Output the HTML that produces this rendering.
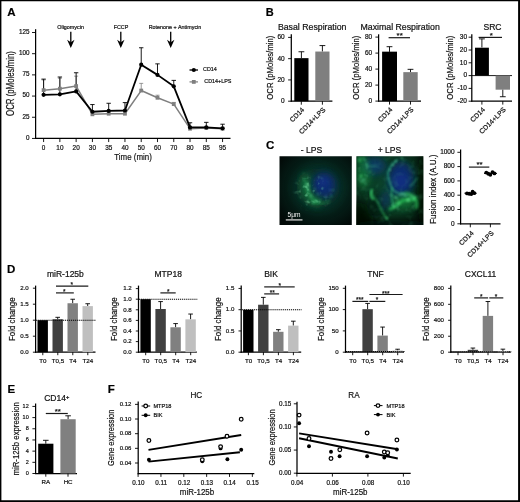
<!DOCTYPE html>
<html lang="en"><head><meta charset="utf-8"><title>Figure</title>
<style>
html,body{margin:0;padding:0;background:#fff;}
body{width:520px;height:502px;overflow:hidden;position:relative;}
svg{display:block;position:absolute;left:0;top:0;}
svg text{font-family:"Liberation Sans", Arial, Helvetica, sans-serif;stroke:#111;stroke-width:0.2px;}
</style></head><body>
<svg width="520" height="502" viewBox="0 0 520 502">
<rect x="0" y="0" width="520" height="502" fill="#fff"/>
<text transform="translate(7.20,15.60)" font-size="11.5" text-anchor="start" font-weight="bold" fill="#000" >A</text>
<line x1="35.60" y1="29.20" x2="35.60" y2="139.00" stroke="#000" stroke-width="1.25" stroke-linecap="butt"/>
<line x1="35.05" y1="138.45" x2="230.50" y2="138.45" stroke="#000" stroke-width="1.25" stroke-linecap="butt"/>
<line x1="32.00" y1="138.45" x2="35.60" y2="138.45" stroke="#000" stroke-width="0.9" stroke-linecap="butt"/>
<text transform="translate(29.60,139.85)" font-size="6.3" text-anchor="end" font-weight="normal" fill="#111" >0</text>
<line x1="32.00" y1="117.26" x2="35.60" y2="117.26" stroke="#000" stroke-width="0.9" stroke-linecap="butt"/>
<text transform="translate(29.60,118.66)" font-size="6.3" text-anchor="end" font-weight="normal" fill="#111" >25</text>
<line x1="32.00" y1="96.07" x2="35.60" y2="96.07" stroke="#000" stroke-width="0.9" stroke-linecap="butt"/>
<text transform="translate(29.60,97.47)" font-size="6.3" text-anchor="end" font-weight="normal" fill="#111" >50</text>
<line x1="32.00" y1="74.88" x2="35.60" y2="74.88" stroke="#000" stroke-width="0.9" stroke-linecap="butt"/>
<text transform="translate(29.60,76.28)" font-size="6.3" text-anchor="end" font-weight="normal" fill="#111" >75</text>
<line x1="32.00" y1="53.69" x2="35.60" y2="53.69" stroke="#000" stroke-width="0.9" stroke-linecap="butt"/>
<text transform="translate(29.60,55.09)" font-size="6.3" text-anchor="end" font-weight="normal" fill="#111" >100</text>
<line x1="32.00" y1="32.50" x2="35.60" y2="32.50" stroke="#000" stroke-width="0.9" stroke-linecap="butt"/>
<text transform="translate(29.60,33.90)" font-size="6.3" text-anchor="end" font-weight="normal" fill="#111" >125</text>
<line x1="43.60" y1="138.45" x2="43.60" y2="142.05" stroke="#000" stroke-width="0.9" stroke-linecap="butt"/>
<text transform="translate(43.60,149.75)" font-size="6.4" text-anchor="middle" font-weight="normal" fill="#111" >0</text>
<line x1="59.87" y1="138.45" x2="59.87" y2="142.05" stroke="#000" stroke-width="0.9" stroke-linecap="butt"/>
<text transform="translate(59.87,149.75)" font-size="6.4" text-anchor="middle" font-weight="normal" fill="#111" >10</text>
<line x1="76.14" y1="138.45" x2="76.14" y2="142.05" stroke="#000" stroke-width="0.9" stroke-linecap="butt"/>
<text transform="translate(76.14,149.75)" font-size="6.4" text-anchor="middle" font-weight="normal" fill="#111" >20</text>
<line x1="92.41" y1="138.45" x2="92.41" y2="142.05" stroke="#000" stroke-width="0.9" stroke-linecap="butt"/>
<text transform="translate(92.41,149.75)" font-size="6.4" text-anchor="middle" font-weight="normal" fill="#111" >30</text>
<line x1="108.68" y1="138.45" x2="108.68" y2="142.05" stroke="#000" stroke-width="0.9" stroke-linecap="butt"/>
<text transform="translate(108.68,149.75)" font-size="6.4" text-anchor="middle" font-weight="normal" fill="#111" >35</text>
<line x1="124.95" y1="138.45" x2="124.95" y2="142.05" stroke="#000" stroke-width="0.9" stroke-linecap="butt"/>
<text transform="translate(124.95,149.75)" font-size="6.4" text-anchor="middle" font-weight="normal" fill="#111" >40</text>
<line x1="141.22" y1="138.45" x2="141.22" y2="142.05" stroke="#000" stroke-width="0.9" stroke-linecap="butt"/>
<text transform="translate(141.22,149.75)" font-size="6.4" text-anchor="middle" font-weight="normal" fill="#111" >50</text>
<line x1="157.49" y1="138.45" x2="157.49" y2="142.05" stroke="#000" stroke-width="0.9" stroke-linecap="butt"/>
<text transform="translate(157.49,149.75)" font-size="6.4" text-anchor="middle" font-weight="normal" fill="#111" >60</text>
<line x1="173.76" y1="138.45" x2="173.76" y2="142.05" stroke="#000" stroke-width="0.9" stroke-linecap="butt"/>
<text transform="translate(173.76,149.75)" font-size="6.4" text-anchor="middle" font-weight="normal" fill="#111" >70</text>
<line x1="190.03" y1="138.45" x2="190.03" y2="142.05" stroke="#000" stroke-width="0.9" stroke-linecap="butt"/>
<text transform="translate(190.03,149.75)" font-size="6.4" text-anchor="middle" font-weight="normal" fill="#111" >80</text>
<line x1="206.30" y1="138.45" x2="206.30" y2="142.05" stroke="#000" stroke-width="0.9" stroke-linecap="butt"/>
<text transform="translate(206.30,149.75)" font-size="6.4" text-anchor="middle" font-weight="normal" fill="#111" >85</text>
<line x1="222.57" y1="138.45" x2="222.57" y2="142.05" stroke="#000" stroke-width="0.9" stroke-linecap="butt"/>
<text transform="translate(222.57,149.75)" font-size="6.4" text-anchor="middle" font-weight="normal" fill="#111" >95</text>
<text transform="translate(133.10,159.90) scale(0.81,1)" font-size="9.8" text-anchor="middle" font-weight="normal" fill="#111" >Time (min)</text>
<text transform="translate(14.20,83.50) rotate(-90) scale(0.785,1)" font-size="10" text-anchor="middle" font-weight="normal" fill="#111" >OCR (pMoles/min)</text>
<text transform="translate(70.60,29.20)" font-size="5.4" text-anchor="middle" font-weight="normal" fill="#111" >Oligomycin</text>
<text transform="translate(121.00,29.20)" font-size="5.4" text-anchor="middle" font-weight="normal" fill="#111" >FCCP</text>
<text transform="translate(175.00,29.20)" font-size="5.4" text-anchor="middle" font-weight="normal" fill="#111" >Rotenone + Antimycin</text>
<line x1="70.80" y1="31.80" x2="70.80" y2="42.50" stroke="#000" stroke-width="1.3" stroke-linecap="butt"/>
<path d="M67.10,39.8 L70.80,42.3 L74.50,39.8 L70.80,48.0 Z" fill="#000"/>
<line x1="120.80" y1="31.80" x2="120.80" y2="42.50" stroke="#000" stroke-width="1.3" stroke-linecap="butt"/>
<path d="M117.10,39.8 L120.80,42.3 L124.50,39.8 L120.80,48.0 Z" fill="#000"/>
<line x1="170.70" y1="31.80" x2="170.70" y2="42.50" stroke="#000" stroke-width="1.3" stroke-linecap="butt"/>
<path d="M167.00,39.8 L170.70,42.3 L174.40,39.8 L170.70,48.0 Z" fill="#000"/>
<line x1="43.60" y1="90.14" x2="43.60" y2="79.97" stroke="#7f7f7f" stroke-width="0.8" stroke-linecap="butt"/>
<line x1="41.60" y1="79.97" x2="45.60" y2="79.97" stroke="#7f7f7f" stroke-width="0.8" stroke-linecap="butt"/>
<line x1="59.87" y1="88.70" x2="59.87" y2="78.27" stroke="#7f7f7f" stroke-width="0.8" stroke-linecap="butt"/>
<line x1="57.87" y1="78.27" x2="61.87" y2="78.27" stroke="#7f7f7f" stroke-width="0.8" stroke-linecap="butt"/>
<line x1="76.14" y1="86.07" x2="76.14" y2="76.15" stroke="#7f7f7f" stroke-width="0.8" stroke-linecap="butt"/>
<line x1="74.14" y1="76.15" x2="78.14" y2="76.15" stroke="#7f7f7f" stroke-width="0.8" stroke-linecap="butt"/>
<line x1="141.22" y1="90.56" x2="141.22" y2="83.36" stroke="#7f7f7f" stroke-width="0.8" stroke-linecap="butt"/>
<line x1="139.22" y1="83.36" x2="143.22" y2="83.36" stroke="#7f7f7f" stroke-width="0.8" stroke-linecap="butt"/>
<line x1="157.49" y1="97.77" x2="157.49" y2="95.22" stroke="#7f7f7f" stroke-width="0.8" stroke-linecap="butt"/>
<line x1="155.49" y1="95.22" x2="159.49" y2="95.22" stroke="#7f7f7f" stroke-width="0.8" stroke-linecap="butt"/>
<line x1="173.76" y1="104.12" x2="173.76" y2="102.43" stroke="#7f7f7f" stroke-width="0.8" stroke-linecap="butt"/>
<line x1="171.76" y1="102.43" x2="175.76" y2="102.43" stroke="#7f7f7f" stroke-width="0.8" stroke-linecap="butt"/>
<line x1="43.60" y1="94.80" x2="43.60" y2="79.12" stroke="#000" stroke-width="0.9" stroke-linecap="butt"/>
<line x1="41.40" y1="79.12" x2="45.80" y2="79.12" stroke="#000" stroke-width="0.9" stroke-linecap="butt"/>
<line x1="59.87" y1="94.37" x2="59.87" y2="77.00" stroke="#000" stroke-width="0.9" stroke-linecap="butt"/>
<line x1="57.67" y1="77.00" x2="62.07" y2="77.00" stroke="#000" stroke-width="0.9" stroke-linecap="butt"/>
<line x1="76.14" y1="91.41" x2="76.14" y2="72.76" stroke="#000" stroke-width="0.9" stroke-linecap="butt"/>
<line x1="73.94" y1="72.76" x2="78.34" y2="72.76" stroke="#000" stroke-width="0.9" stroke-linecap="butt"/>
<line x1="92.41" y1="111.75" x2="92.41" y2="104.55" stroke="#000" stroke-width="0.9" stroke-linecap="butt"/>
<line x1="90.21" y1="104.55" x2="94.61" y2="104.55" stroke="#000" stroke-width="0.9" stroke-linecap="butt"/>
<line x1="108.68" y1="110.90" x2="108.68" y2="103.27" stroke="#000" stroke-width="0.9" stroke-linecap="butt"/>
<line x1="106.48" y1="103.27" x2="110.88" y2="103.27" stroke="#000" stroke-width="0.9" stroke-linecap="butt"/>
<line x1="124.95" y1="110.48" x2="124.95" y2="102.60" stroke="#000" stroke-width="0.9" stroke-linecap="butt"/>
<line x1="122.75" y1="102.60" x2="127.15" y2="102.60" stroke="#000" stroke-width="0.9" stroke-linecap="butt"/>
<line x1="141.22" y1="64.71" x2="141.22" y2="47.76" stroke="#000" stroke-width="0.9" stroke-linecap="butt"/>
<line x1="139.02" y1="47.76" x2="143.42" y2="47.76" stroke="#000" stroke-width="0.9" stroke-linecap="butt"/>
<line x1="157.49" y1="74.88" x2="157.49" y2="63.86" stroke="#000" stroke-width="0.9" stroke-linecap="butt"/>
<line x1="155.29" y1="63.86" x2="159.69" y2="63.86" stroke="#000" stroke-width="0.9" stroke-linecap="butt"/>
<line x1="173.76" y1="86.32" x2="173.76" y2="80.39" stroke="#000" stroke-width="0.9" stroke-linecap="butt"/>
<line x1="171.56" y1="80.39" x2="175.96" y2="80.39" stroke="#000" stroke-width="0.9" stroke-linecap="butt"/>
<line x1="190.03" y1="127.43" x2="190.03" y2="122.77" stroke="#000" stroke-width="0.9" stroke-linecap="butt"/>
<line x1="187.83" y1="122.77" x2="192.23" y2="122.77" stroke="#000" stroke-width="0.9" stroke-linecap="butt"/>
<line x1="206.30" y1="127.43" x2="206.30" y2="122.35" stroke="#000" stroke-width="0.9" stroke-linecap="butt"/>
<line x1="204.10" y1="122.35" x2="208.50" y2="122.35" stroke="#000" stroke-width="0.9" stroke-linecap="butt"/>
<line x1="222.57" y1="128.28" x2="222.57" y2="124.21" stroke="#000" stroke-width="0.9" stroke-linecap="butt"/>
<line x1="220.37" y1="124.21" x2="224.77" y2="124.21" stroke="#000" stroke-width="0.9" stroke-linecap="butt"/>
<polyline points="43.60,90.14 59.87,88.70 76.14,86.07 92.41,114.29 108.68,113.70 124.95,113.70 141.22,90.56 157.49,97.77 173.76,104.12 190.03,128.70 206.30,128.02 222.57,128.70" fill="none" stroke="#7f7f7f" stroke-width="1.5" stroke-linejoin="round"/>
<rect x="41.70" y="88.24" width="3.80" height="3.80" fill="#7f7f7f" />
<rect x="57.97" y="86.80" width="3.80" height="3.80" fill="#7f7f7f" />
<rect x="74.24" y="84.17" width="3.80" height="3.80" fill="#7f7f7f" />
<rect x="90.51" y="112.39" width="3.80" height="3.80" fill="#7f7f7f" />
<rect x="106.78" y="111.80" width="3.80" height="3.80" fill="#7f7f7f" />
<rect x="123.05" y="111.80" width="3.80" height="3.80" fill="#7f7f7f" />
<rect x="139.32" y="88.66" width="3.80" height="3.80" fill="#7f7f7f" />
<rect x="155.59" y="95.87" width="3.80" height="3.80" fill="#7f7f7f" />
<rect x="171.86" y="102.22" width="3.80" height="3.80" fill="#7f7f7f" />
<rect x="188.13" y="126.80" width="3.80" height="3.80" fill="#7f7f7f" />
<rect x="204.40" y="126.12" width="3.80" height="3.80" fill="#7f7f7f" />
<rect x="220.67" y="126.80" width="3.80" height="3.80" fill="#7f7f7f" />
<polyline points="43.60,94.80 59.87,94.37 76.14,91.41 92.41,111.75 108.68,110.90 124.95,110.48 141.22,64.71 157.49,74.88 173.76,86.32 190.03,127.43 206.30,127.43 222.57,128.28" fill="none" stroke="#000" stroke-width="1.8" stroke-linejoin="round"/>
<circle cx="43.60" cy="94.80" r="2.1" fill="#000"/>
<circle cx="59.87" cy="94.37" r="2.1" fill="#000"/>
<circle cx="76.14" cy="91.41" r="2.1" fill="#000"/>
<circle cx="92.41" cy="111.75" r="2.1" fill="#000"/>
<circle cx="108.68" cy="110.90" r="2.1" fill="#000"/>
<circle cx="124.95" cy="110.48" r="2.1" fill="#000"/>
<circle cx="141.22" cy="64.71" r="2.1" fill="#000"/>
<circle cx="157.49" cy="74.88" r="2.1" fill="#000"/>
<circle cx="173.76" cy="86.32" r="2.1" fill="#000"/>
<circle cx="190.03" cy="127.43" r="2.1" fill="#000"/>
<circle cx="206.30" cy="127.43" r="2.1" fill="#000"/>
<circle cx="222.57" cy="128.28" r="2.1" fill="#000"/>
<line x1="189.50" y1="70.00" x2="198.00" y2="70.00" stroke="#000" stroke-width="1.3" stroke-linecap="butt"/>
<circle cx="193.80" cy="70.00" r="2.1" fill="#000"/>
<text transform="translate(203.00,71.40)" font-size="5.4" text-anchor="start" font-weight="normal" fill="#111" >CD14</text>
<line x1="189.50" y1="81.90" x2="198.00" y2="81.90" stroke="#7f7f7f" stroke-width="1.2" stroke-linecap="butt"/>
<rect x="191.90" y="80.00" width="3.80" height="3.80" fill="#7f7f7f" />
<text transform="translate(204.30,83.40)" font-size="5.4" text-anchor="start" font-weight="normal" fill="#111" >CD14+LPS</text>
<text transform="translate(265.80,15.80)" font-size="11" text-anchor="start" font-weight="bold" fill="#000" >B</text>
<text transform="translate(277.90,29.50)" font-size="8.75" text-anchor="start" font-weight="normal" fill="#111" >Basal Respiration</text>
<line x1="291.30" y1="34.30" x2="291.30" y2="101.75" stroke="#000" stroke-width="1.25" stroke-linecap="butt"/>
<line x1="288.10" y1="101.20" x2="291.30" y2="101.20" stroke="#000" stroke-width="0.9" stroke-linecap="butt"/>
<text transform="translate(284.70,103.04)" font-size="6.5" text-anchor="end" font-weight="normal" fill="#111" >0</text>
<line x1="288.10" y1="79.93" x2="291.30" y2="79.93" stroke="#000" stroke-width="0.9" stroke-linecap="butt"/>
<text transform="translate(284.70,81.77)" font-size="6.5" text-anchor="end" font-weight="normal" fill="#111" >20</text>
<line x1="288.10" y1="58.67" x2="291.30" y2="58.67" stroke="#000" stroke-width="0.9" stroke-linecap="butt"/>
<text transform="translate(284.70,60.51)" font-size="6.5" text-anchor="end" font-weight="normal" fill="#111" >40</text>
<line x1="288.10" y1="37.40" x2="291.30" y2="37.40" stroke="#000" stroke-width="0.9" stroke-linecap="butt"/>
<text transform="translate(284.70,39.24)" font-size="6.5" text-anchor="end" font-weight="normal" fill="#111" >60</text>
<line x1="290.75" y1="101.20" x2="332.40" y2="101.20" stroke="#000" stroke-width="1.25" stroke-linecap="butt"/>
<text transform="translate(272.80,67.70) rotate(-90) scale(0.85,1)" font-size="9.1" text-anchor="middle" font-weight="normal" fill="#111" >OCR (pMoles/min)</text>
<line x1="301.40" y1="58.14" x2="301.40" y2="51.76" stroke="#000" stroke-width="0.9" stroke-linecap="butt"/>
<line x1="298.50" y1="51.76" x2="304.30" y2="51.76" stroke="#000" stroke-width="0.9" stroke-linecap="butt"/>
<rect x="294.30" y="58.14" width="14.20" height="43.06" fill="#000" />
<line x1="322.40" y1="51.54" x2="322.40" y2="45.59" stroke="#000" stroke-width="0.9" stroke-linecap="butt"/>
<line x1="319.50" y1="45.59" x2="325.30" y2="45.59" stroke="#000" stroke-width="0.9" stroke-linecap="butt"/>
<rect x="315.30" y="51.54" width="14.20" height="49.66" fill="#7f7f7f" />
<line x1="301.30" y1="101.20" x2="301.30" y2="104.70" stroke="#000" stroke-width="0.9" stroke-linecap="butt"/>
<text transform="translate(304.80,110.20) rotate(-45)" font-size="6.8" text-anchor="end" font-weight="normal" fill="#111" >CD14</text>
<line x1="322.40" y1="101.20" x2="322.40" y2="104.70" stroke="#000" stroke-width="0.9" stroke-linecap="butt"/>
<text transform="translate(325.90,110.20) rotate(-45)" font-size="6.8" text-anchor="end" font-weight="normal" fill="#111" >CD14+LPS</text>
<text transform="translate(360.50,29.50)" font-size="8.75" text-anchor="start" font-weight="normal" fill="#111" >Maximal Respiration</text>
<line x1="378.60" y1="34.30" x2="378.60" y2="101.65" stroke="#000" stroke-width="1.25" stroke-linecap="butt"/>
<line x1="375.40" y1="101.10" x2="378.60" y2="101.10" stroke="#000" stroke-width="0.9" stroke-linecap="butt"/>
<text transform="translate(372.20,102.94)" font-size="6.5" text-anchor="end" font-weight="normal" fill="#111" >0</text>
<line x1="375.40" y1="85.10" x2="378.60" y2="85.10" stroke="#000" stroke-width="0.9" stroke-linecap="butt"/>
<text transform="translate(372.20,86.94)" font-size="6.5" text-anchor="end" font-weight="normal" fill="#111" >20</text>
<line x1="375.40" y1="69.10" x2="378.60" y2="69.10" stroke="#000" stroke-width="0.9" stroke-linecap="butt"/>
<text transform="translate(372.20,70.94)" font-size="6.5" text-anchor="end" font-weight="normal" fill="#111" >40</text>
<line x1="375.40" y1="53.10" x2="378.60" y2="53.10" stroke="#000" stroke-width="0.9" stroke-linecap="butt"/>
<text transform="translate(372.20,54.94)" font-size="6.5" text-anchor="end" font-weight="normal" fill="#111" >60</text>
<line x1="375.40" y1="37.10" x2="378.60" y2="37.10" stroke="#000" stroke-width="0.9" stroke-linecap="butt"/>
<text transform="translate(372.20,38.94)" font-size="6.5" text-anchor="end" font-weight="normal" fill="#111" >80</text>
<line x1="378.05" y1="101.10" x2="421.00" y2="101.10" stroke="#000" stroke-width="1.25" stroke-linecap="butt"/>
<text transform="translate(359.40,67.70) rotate(-90) scale(0.85,1)" font-size="9.1" text-anchor="middle" font-weight="normal" fill="#111" >OCR (pMoles/min)</text>
<line x1="389.50" y1="51.90" x2="389.50" y2="46.70" stroke="#000" stroke-width="0.9" stroke-linecap="butt"/>
<line x1="386.60" y1="46.70" x2="392.40" y2="46.70" stroke="#000" stroke-width="0.9" stroke-linecap="butt"/>
<rect x="382.10" y="51.66" width="14.90" height="49.44" fill="#000" />
<line x1="410.50" y1="72.30" x2="410.50" y2="69.34" stroke="#000" stroke-width="0.9" stroke-linecap="butt"/>
<line x1="407.60" y1="69.34" x2="413.40" y2="69.34" stroke="#000" stroke-width="0.9" stroke-linecap="butt"/>
<rect x="403.30" y="72.14" width="14.40" height="28.96" fill="#7f7f7f" />
<line x1="388.60" y1="37.70" x2="410.00" y2="37.70" stroke="#1a1a1a" stroke-width="1.2" stroke-linecap="butt"/>
<text transform="translate(399.70,37.60)" font-size="8" text-anchor="middle" font-weight="normal" fill="#111" >**</text>
<line x1="389.50" y1="101.10" x2="389.50" y2="104.60" stroke="#000" stroke-width="0.9" stroke-linecap="butt"/>
<text transform="translate(393.00,110.10) rotate(-45)" font-size="6.8" text-anchor="end" font-weight="normal" fill="#111" >CD14</text>
<line x1="410.50" y1="101.10" x2="410.50" y2="104.60" stroke="#000" stroke-width="0.9" stroke-linecap="butt"/>
<text transform="translate(414.00,110.10) rotate(-45)" font-size="6.8" text-anchor="end" font-weight="normal" fill="#111" >CD14+LPS</text>
<text transform="translate(492.50,29.50)" font-size="8.6" text-anchor="middle" font-weight="normal" fill="#111" >SRC</text>
<line x1="471.80" y1="34.30" x2="471.80" y2="101.65" stroke="#000" stroke-width="1.25" stroke-linecap="butt"/>
<line x1="468.60" y1="101.20" x2="471.80" y2="101.20" stroke="#000" stroke-width="0.9" stroke-linecap="butt"/>
<text transform="translate(467.00,103.04)" font-size="6.5" text-anchor="end" font-weight="normal" fill="#111" >-20</text>
<line x1="468.60" y1="88.40" x2="471.80" y2="88.40" stroke="#000" stroke-width="0.9" stroke-linecap="butt"/>
<text transform="translate(467.00,90.24)" font-size="6.5" text-anchor="end" font-weight="normal" fill="#111" >-10</text>
<line x1="468.60" y1="75.60" x2="471.80" y2="75.60" stroke="#000" stroke-width="0.9" stroke-linecap="butt"/>
<text transform="translate(467.00,77.44)" font-size="6.5" text-anchor="end" font-weight="normal" fill="#111" >0</text>
<line x1="468.60" y1="62.80" x2="471.80" y2="62.80" stroke="#000" stroke-width="0.9" stroke-linecap="butt"/>
<text transform="translate(467.00,64.64)" font-size="6.5" text-anchor="end" font-weight="normal" fill="#111" >10</text>
<line x1="468.60" y1="50.00" x2="471.80" y2="50.00" stroke="#000" stroke-width="0.9" stroke-linecap="butt"/>
<text transform="translate(467.00,51.84)" font-size="6.5" text-anchor="end" font-weight="normal" fill="#111" >20</text>
<line x1="468.60" y1="37.20" x2="471.80" y2="37.20" stroke="#000" stroke-width="0.9" stroke-linecap="butt"/>
<text transform="translate(467.00,39.04)" font-size="6.5" text-anchor="end" font-weight="normal" fill="#111" >30</text>
<line x1="471.25" y1="101.10" x2="512.00" y2="101.10" stroke="#000" stroke-width="1.25" stroke-linecap="butt"/>
<line x1="471.80" y1="75.60" x2="512.00" y2="75.60" stroke="#000" stroke-width="0.9" stroke-linecap="butt"/>
<text transform="translate(453.40,67.70) rotate(-90) scale(0.85,1)" font-size="9.1" text-anchor="middle" font-weight="normal" fill="#111" >OCR (pMoles/min)</text>
<line x1="481.90" y1="47.44" x2="481.90" y2="38.86" stroke="#000" stroke-width="0.9" stroke-linecap="butt"/>
<line x1="479.00" y1="38.86" x2="484.80" y2="38.86" stroke="#000" stroke-width="0.9" stroke-linecap="butt"/>
<rect x="475.00" y="47.70" width="13.90" height="27.90" fill="#000" />
<line x1="502.80" y1="89.42" x2="502.80" y2="96.72" stroke="#000" stroke-width="0.9" stroke-linecap="butt"/>
<line x1="499.90" y1="96.72" x2="505.70" y2="96.72" stroke="#000" stroke-width="0.9" stroke-linecap="butt"/>
<rect x="495.60" y="75.60" width="14.40" height="14.08" fill="#7f7f7f" />
<line x1="478.60" y1="37.40" x2="502.00" y2="37.40" stroke="#1a1a1a" stroke-width="1.2" stroke-linecap="butt"/>
<text transform="translate(491.20,38.30)" font-size="8" text-anchor="middle" font-weight="normal" fill="#111" >*</text>
<line x1="481.90" y1="101.10" x2="481.90" y2="104.60" stroke="#000" stroke-width="0.9" stroke-linecap="butt"/>
<text transform="translate(485.40,110.10) rotate(-45)" font-size="6.8" text-anchor="end" font-weight="normal" fill="#111" >CD14</text>
<line x1="502.80" y1="101.10" x2="502.80" y2="104.60" stroke="#000" stroke-width="0.9" stroke-linecap="butt"/>
<text transform="translate(506.30,110.10) rotate(-45)" font-size="6.8" text-anchor="end" font-weight="normal" fill="#111" >CD14+LPS</text>
<text transform="translate(266.00,149.40)" font-size="11.5" text-anchor="start" font-weight="bold" fill="#000" >C</text>
<text transform="translate(311.40,152.90)" font-size="8.6" text-anchor="middle" font-weight="normal" fill="#111" >- LPS</text>
<text transform="translate(389.50,152.90)" font-size="8.6" text-anchor="middle" font-weight="normal" fill="#111" >+ LPS</text>
<defs>
<filter id="b1" x="-50%" y="-50%" width="200%" height="200%"><feGaussianBlur stdDeviation="1"/></filter>
<filter id="b15" x="-50%" y="-50%" width="200%" height="200%"><feGaussianBlur stdDeviation="1.6"/></filter>
<filter id="b2" x="-50%" y="-50%" width="200%" height="200%"><feGaussianBlur stdDeviation="2.4"/></filter>
<filter id="b3" x="-50%" y="-50%" width="200%" height="200%"><feGaussianBlur stdDeviation="3.5"/></filter>
<filter id="b5" x="-50%" y="-50%" width="200%" height="200%"><feGaussianBlur stdDeviation="6"/></filter>
<filter id="b05" x="-50%" y="-50%" width="200%" height="200%"><feGaussianBlur stdDeviation="0.6"/></filter>
<filter id="tx" x="0" y="0" width="100%" height="100%"><feTurbulence type="fractalNoise" baseFrequency="0.13" numOctaves="2" seed="7" result="n"/><feColorMatrix in="n" type="matrix" values="0 0 0 0 0.10  0 0 0 0 0.62  0 0 0 0 0.30  0 2.6 0 0 -1.25"/><feGaussianBlur stdDeviation="0.7"/></filter>
<filter id="tx2" x="0" y="0" width="100%" height="100%"><feTurbulence type="fractalNoise" baseFrequency="0.2" numOctaves="2" seed="3" result="n"/><feColorMatrix in="n" type="matrix" values="0 0 0 0 0.25  0 0 0 0 0.85  0 0 0 0 0.45  0 3.2 0 0 -1.75"/><feGaussianBlur stdDeviation="0.6"/></filter>
<radialGradient id="m1" cx="0.42" cy="0.52" r="0.3"><stop offset="0" stop-color="#fff"/><stop offset="0.6" stop-color="#fff" stop-opacity="0.6"/><stop offset="1" stop-color="#fff" stop-opacity="0"/></radialGradient>
<mask id="mk1" maskUnits="userSpaceOnUse" x="279" y="156" width="74" height="70"><ellipse cx="311" cy="191" rx="14" ry="16" fill="#fff" filter="url(#b3)"/><ellipse cx="322" cy="202" rx="9" ry="4" fill="#bbb" filter="url(#b2)"/></mask>
<mask id="mk2" maskUnits="userSpaceOnUse" x="356" y="156" width="68" height="70"><rect x="356" y="156" width="68" height="70" fill="#484848"/><ellipse cx="402" cy="202" rx="14" ry="9" fill="#ddd" filter="url(#b3)"/><ellipse cx="363" cy="172" rx="8" ry="14" fill="#ccc" filter="url(#b3)"/><ellipse cx="360" cy="222" rx="16" ry="16" fill="#000" filter="url(#b5)"/></mask>
<radialGradient id="bg1" cx="0.55" cy="0.45" r="0.66"><stop offset="0" stop-color="#09362d"/><stop offset="0.5" stop-color="#06251d"/><stop offset="1" stop-color="#020a08"/></radialGradient>
<radialGradient id="bg2" cx="0.5" cy="0.42" r="0.7"><stop offset="0" stop-color="#0c4630"/><stop offset="0.6" stop-color="#09361f"/><stop offset="1" stop-color="#03120a"/></radialGradient>
</defs>
<svg x="279.5" y="156.2" width="72.3" height="68.7" viewBox="279.5 156.2 72.3 68.7" overflow="hidden">
<rect x="279" y="156" width="74" height="69.5" fill="url(#bg1)"/>
<ellipse cx="318" cy="188" rx="22" ry="20" fill="#093a30" opacity="0.7" filter="url(#b5)"/>
<ellipse cx="324" cy="185" rx="11.5" ry="12.5" fill="#0f2b7a" opacity="0.85" filter="url(#b3)"/>
<ellipse cx="323" cy="182" rx="6" ry="5" fill="#13338e" opacity="0.5" filter="url(#b2)"/>
<path d="M305.5,178 C303,185 305,192 309,197 C311,200 314,202 318,202" fill="none" stroke="#157a3c" stroke-width="8" stroke-linecap="round" opacity="0.8" filter="url(#b3)"/>
<path d="M306.5,182 C306,188 308.5,193 311,197 C313,200 315,201.5 317,201.5" fill="none" stroke="#2aa85c" stroke-width="3.2" stroke-linecap="round" opacity="0.55" filter="url(#b15)"/>
<circle cx="306.5" cy="184.5" r="1.3" fill="#7fe6a8" opacity="0.45" filter="url(#b1)"/>
<circle cx="308.5" cy="190" r="1.2" fill="#6fdc9c" opacity="0.45" filter="url(#b1)"/>
<circle cx="311" cy="195.5" r="1.2" fill="#6fdc9c" opacity="0.45" filter="url(#b1)"/>
<circle cx="316" cy="201" r="1.3" fill="#66d894" opacity="0.45" filter="url(#b1)"/>
<circle cx="320" cy="200.5" r="1.0" fill="#66d894" opacity="0.45" filter="url(#b1)"/>
<circle cx="315" cy="189" r="1.0" fill="#4fc0a0" opacity="0.45" filter="url(#b1)"/>
<circle cx="318" cy="194" r="0.9" fill="#4fc0b0" opacity="0.45" filter="url(#b1)"/>
<circle cx="326" cy="196" r="0.9" fill="#5b9be0" opacity="0.45" filter="url(#b1)"/>
<circle cx="330" cy="190" r="0.9" fill="#5b8be0" opacity="0.45" filter="url(#b1)"/>
<circle cx="331" cy="194.5" r="0.8" fill="#5b8be0" opacity="0.45" filter="url(#b1)"/>
<circle cx="300.5" cy="197" r="0.9" fill="#3fae6a" opacity="0.45" filter="url(#b1)"/>
<circle cx="304" cy="180" r="1.0" fill="#5fd890" opacity="0.45" filter="url(#b1)"/>
<circle cx="333" cy="190" r="1.0" fill="#3fc080" opacity="0.45" filter="url(#b1)"/>
<circle cx="331.5" cy="196.5" r="1.0" fill="#3fc080" opacity="0.45" filter="url(#b1)"/>
<circle cx="313" cy="203" r="1.3" fill="#55d888" opacity="0.45" filter="url(#b1)"/>
<circle cx="309" cy="186" r="1.2" fill="#66e096" opacity="0.45" filter="url(#b1)"/>
<path d="M314,202 C319,204.5 325,204 329,201" fill="none" stroke="#1a8a48" stroke-width="3" stroke-linecap="round" opacity="0.5" filter="url(#b15)"/>
<g mask="url(#mk1)"><rect x="279" y="156" width="74" height="70" filter="url(#tx2)" opacity="0.55"/></g>
<rect x="285.8" y="219.2" width="16.7" height="1.4" fill="#c4c4c4"/>
<text transform="translate(287.6,216.6)" font-size="6.6" fill="#f2f2f2" style="stroke:none">5μm</text>
</svg>
<svg x="356.4" y="156.2" width="66.9" height="68.7" viewBox="356.4 156.2 66.9 68.7" overflow="hidden">
<rect x="356" y="156" width="68" height="69.5" fill="url(#bg2)"/>
<ellipse cx="358" cy="224" rx="16" ry="22" fill="#020a06" opacity="0.9" filter="url(#b5)"/>
<ellipse cx="424" cy="190" rx="7" ry="40" fill="#020a06" opacity="0.85" filter="url(#b3)"/>
<ellipse cx="392" cy="226" rx="40" ry="6" fill="#03100a" opacity="0.7" filter="url(#b3)"/>
<ellipse cx="376" cy="206" rx="9" ry="12" fill="#04160f" opacity="0.55" filter="url(#b3)"/>
<ellipse cx="401" cy="179" rx="12.5" ry="17" fill="#0f2a7a" opacity="0.85" filter="url(#b3)"/>
<ellipse cx="401" cy="181" rx="7" ry="8" fill="#133292" opacity="0.5" filter="url(#b2)"/>
<ellipse cx="374" cy="166" rx="12" ry="9" fill="#0f3a72" opacity="0.8" filter="url(#b3)"/>
<ellipse cx="386" cy="200" rx="5" ry="9" fill="#10386e" opacity="0.7" filter="url(#b3)"/>
<ellipse cx="363" cy="174" rx="8" ry="14" fill="#168a40" opacity="0.6" filter="url(#b3)"/>
<ellipse cx="361" cy="159" rx="6" ry="4" fill="#1a9a48" opacity="0.6" filter="url(#b2)"/>
<ellipse cx="404" cy="202" rx="12" ry="7" fill="#178a3e" opacity="0.6" filter="url(#b3)"/>
<path d="M390,209 C396,207 399,202 404,200 C409,199 413,201 415,198" fill="none" stroke="#2cc85c" stroke-width="3.2" stroke-linecap="round" opacity="0.75" filter="url(#b15)"/>
<path d="M405,193 C409,194 413,196 416,200 C417,203 417,206 416,208" fill="none" stroke="#2bc25a" stroke-width="2.6" stroke-linecap="round" opacity="0.8" filter="url(#b15)"/>
<path d="M397,160 C393,163 390,167 388,172 C387,177 390,183 392,188 C394,192 399,194 404,194" fill="none" stroke="#3ac090" stroke-width="1.8" stroke-linecap="round" opacity="0.6" filter="url(#b1)"/>
<path d="M392,188 C391,194 392,200 393,205" fill="none" stroke="#30b070" stroke-width="1.6" stroke-linecap="round" opacity="0.7" filter="url(#b1)"/>
<path d="M371,192 C373,197 377,200 379,205 C381,210 384,215 387,219" fill="none" stroke="#2fb860" stroke-width="1.8" stroke-linecap="round" opacity="0.6" filter="url(#b1)"/>
<path d="M372,190 C370,194 371,197 373,199" fill="none" stroke="#35c868" stroke-width="2.4" stroke-linecap="round" opacity="0.8" filter="url(#b1)"/>
<path d="M410,186 C413,184 415,182 417,178" fill="none" stroke="#2a9a70" stroke-width="1.6" stroke-linecap="round" opacity="0.6" filter="url(#b1)"/>
<circle cx="361" cy="176" r="1.8" fill="#45d878" opacity="0.5" filter="url(#b1)"/>
<circle cx="359.5" cy="160.5" r="1.6" fill="#3fd070" opacity="0.5" filter="url(#b1)"/>
<circle cx="366" cy="165" r="1.2" fill="#2fae5c" opacity="0.5" filter="url(#b1)"/>
<circle cx="370" cy="172" r="1.0" fill="#2fae5c" opacity="0.5" filter="url(#b1)"/>
<circle cx="363" cy="183" r="1.0" fill="#2fae5c" opacity="0.5" filter="url(#b1)"/>
<circle cx="393" cy="165" r="1.1" fill="#7fe6b0" opacity="0.5" filter="url(#b1)"/>
<circle cx="390" cy="170" r="1.0" fill="#7fe6b0" opacity="0.5" filter="url(#b1)"/>
<circle cx="396" cy="161.5" r="1.0" fill="#7fe6b0" opacity="0.5" filter="url(#b1)"/>
<circle cx="402" cy="158" r="1.0" fill="#5fce98" opacity="0.5" filter="url(#b1)"/>
<circle cx="408" cy="200" r="2.0" fill="#6ff09a" opacity="0.5" filter="url(#b1)"/>
<circle cx="399" cy="203" r="1.6" fill="#5fe68a" opacity="0.5" filter="url(#b1)"/>
<circle cx="394" cy="207" r="1.4" fill="#5fe68a" opacity="0.5" filter="url(#b1)"/>
<circle cx="387" cy="218" r="1.6" fill="#3fc870" opacity="0.5" filter="url(#b1)"/>
<circle cx="414" cy="199" r="1.3" fill="#5fe68a" opacity="0.5" filter="url(#b1)"/>
<g mask="url(#mk2)"><rect x="356" y="156" width="68" height="70" filter="url(#tx)" opacity="0.55"/></g>
</svg>
<line x1="460.60" y1="149.50" x2="460.60" y2="224.35" stroke="#000" stroke-width="1.25" stroke-linecap="butt"/>
<line x1="457.40" y1="223.80" x2="460.60" y2="223.80" stroke="#000" stroke-width="0.9" stroke-linecap="butt"/>
<text transform="translate(454.60,225.64)" font-size="6.5" text-anchor="end" font-weight="normal" fill="#111" >0</text>
<line x1="457.40" y1="209.50" x2="460.60" y2="209.50" stroke="#000" stroke-width="0.9" stroke-linecap="butt"/>
<text transform="translate(454.60,211.34)" font-size="6.5" text-anchor="end" font-weight="normal" fill="#111" >200</text>
<line x1="457.40" y1="195.20" x2="460.60" y2="195.20" stroke="#000" stroke-width="0.9" stroke-linecap="butt"/>
<text transform="translate(454.60,197.04)" font-size="6.5" text-anchor="end" font-weight="normal" fill="#111" >400</text>
<line x1="457.40" y1="180.90" x2="460.60" y2="180.90" stroke="#000" stroke-width="0.9" stroke-linecap="butt"/>
<text transform="translate(454.60,182.74)" font-size="6.5" text-anchor="end" font-weight="normal" fill="#111" >600</text>
<line x1="457.40" y1="166.60" x2="460.60" y2="166.60" stroke="#000" stroke-width="0.9" stroke-linecap="butt"/>
<text transform="translate(454.60,168.44)" font-size="6.5" text-anchor="end" font-weight="normal" fill="#111" >800</text>
<line x1="457.40" y1="152.30" x2="460.60" y2="152.30" stroke="#000" stroke-width="0.9" stroke-linecap="butt"/>
<text transform="translate(454.60,154.14)" font-size="6.5" text-anchor="end" font-weight="normal" fill="#111" >1000</text>
<line x1="460.05" y1="223.80" x2="500.50" y2="223.80" stroke="#000" stroke-width="1.25" stroke-linecap="butt"/>
<text transform="translate(436.20,189.20) rotate(-90) scale(0.875,1)" font-size="9.3" text-anchor="middle" font-weight="normal" fill="#111" >Fusion index (A.U.)</text>
<circle cx="467.00" cy="193.41" r="1.9" fill="#000"/>
<circle cx="469.20" cy="193.77" r="1.9" fill="#000"/>
<circle cx="471.30" cy="194.06" r="1.9" fill="#000"/>
<circle cx="472.60" cy="191.77" r="1.9" fill="#000"/>
<circle cx="474.30" cy="193.20" r="1.9" fill="#000"/>
<line x1="464.40" y1="193.20" x2="476.60" y2="193.20" stroke="#000" stroke-width="1.0" stroke-linecap="butt"/>
<circle cx="486.30" cy="172.61" r="1.9" fill="#000"/>
<circle cx="488.30" cy="173.75" r="1.9" fill="#000"/>
<circle cx="490.30" cy="174.75" r="1.9" fill="#000"/>
<circle cx="492.50" cy="172.18" r="1.9" fill="#000"/>
<circle cx="494.40" cy="173.39" r="1.9" fill="#000"/>
<line x1="484.00" y1="173.39" x2="497.00" y2="173.39" stroke="#000" stroke-width="1.0" stroke-linecap="butt"/>
<line x1="468.90" y1="167.10" x2="489.30" y2="167.10" stroke="#1a1a1a" stroke-width="1.2" stroke-linecap="butt"/>
<text transform="translate(479.50,166.80)" font-size="8" text-anchor="middle" font-weight="normal" fill="#111" >**</text>
<line x1="470.30" y1="223.80" x2="470.30" y2="227.30" stroke="#000" stroke-width="0.9" stroke-linecap="butt"/>
<text transform="translate(474.10,233.50) rotate(-45)" font-size="6.8" text-anchor="end" font-weight="normal" fill="#111" >CD14</text>
<line x1="490.40" y1="223.80" x2="490.40" y2="227.30" stroke="#000" stroke-width="0.9" stroke-linecap="butt"/>
<text transform="translate(494.20,233.50) rotate(-45)" font-size="6.8" text-anchor="end" font-weight="normal" fill="#111" >CD14+LPS</text>
<text transform="translate(6.90,273.00)" font-size="11.5" text-anchor="start" font-weight="bold" fill="#000" >D</text>
<text transform="translate(65.40,277.20)" font-size="8.5" text-anchor="middle" font-weight="normal" fill="#111" >miR-125b</text>
<line x1="35.60" y1="285.60" x2="35.60" y2="352.75" stroke="#000" stroke-width="1.25" stroke-linecap="butt"/>
<line x1="32.90" y1="352.20" x2="35.60" y2="352.20" stroke="#000" stroke-width="0.9" stroke-linecap="butt"/>
<text transform="translate(28.80,353.91)" font-size="6.15" text-anchor="end" font-weight="normal" fill="#111" >0.0</text>
<line x1="32.90" y1="336.20" x2="35.60" y2="336.20" stroke="#000" stroke-width="0.9" stroke-linecap="butt"/>
<text transform="translate(28.80,337.91)" font-size="6.15" text-anchor="end" font-weight="normal" fill="#111" >0.5</text>
<line x1="32.90" y1="320.20" x2="35.60" y2="320.20" stroke="#000" stroke-width="0.9" stroke-linecap="butt"/>
<text transform="translate(28.80,321.91)" font-size="6.15" text-anchor="end" font-weight="normal" fill="#111" >1.0</text>
<line x1="32.90" y1="304.20" x2="35.60" y2="304.20" stroke="#000" stroke-width="0.9" stroke-linecap="butt"/>
<text transform="translate(28.80,305.91)" font-size="6.15" text-anchor="end" font-weight="normal" fill="#111" >1.5</text>
<line x1="32.90" y1="288.20" x2="35.60" y2="288.20" stroke="#000" stroke-width="0.9" stroke-linecap="butt"/>
<text transform="translate(28.80,289.91)" font-size="6.15" text-anchor="end" font-weight="normal" fill="#111" >2.0</text>
<line x1="35.05" y1="352.20" x2="95.50" y2="352.20" stroke="#000" stroke-width="1.25" stroke-linecap="butt"/>
<text transform="translate(14.70,319.20) rotate(-90) scale(0.89,1)" font-size="8.9" text-anchor="middle" font-weight="normal" fill="#111" >Fold change</text>
<rect x="37.50" y="320.20" width="10.40" height="32.00" fill="#000" />
<line x1="42.80" y1="352.20" x2="42.80" y2="355.20" stroke="#000" stroke-width="0.9" stroke-linecap="butt"/>
<text transform="translate(42.90,363.30)" font-size="6.2" text-anchor="middle" font-weight="normal" fill="#111" >T0</text>
<line x1="57.70" y1="319.24" x2="57.70" y2="317.32" stroke="#000" stroke-width="0.9" stroke-linecap="butt"/>
<line x1="55.40" y1="317.32" x2="60.00" y2="317.32" stroke="#000" stroke-width="0.9" stroke-linecap="butt"/>
<rect x="52.50" y="319.24" width="10.40" height="32.96" fill="#404040" />
<line x1="57.80" y1="352.20" x2="57.80" y2="355.20" stroke="#000" stroke-width="0.9" stroke-linecap="butt"/>
<text transform="translate(57.90,363.30)" font-size="6.2" text-anchor="middle" font-weight="normal" fill="#111" >T0,5</text>
<line x1="72.70" y1="303.24" x2="72.70" y2="299.24" stroke="#000" stroke-width="0.9" stroke-linecap="butt"/>
<line x1="70.40" y1="299.24" x2="75.00" y2="299.24" stroke="#000" stroke-width="0.9" stroke-linecap="butt"/>
<rect x="67.50" y="303.24" width="10.40" height="48.96" fill="#808080" />
<line x1="72.80" y1="352.20" x2="72.80" y2="355.20" stroke="#000" stroke-width="0.9" stroke-linecap="butt"/>
<text transform="translate(72.90,363.30)" font-size="6.2" text-anchor="middle" font-weight="normal" fill="#111" >T4</text>
<line x1="87.70" y1="306.12" x2="87.70" y2="303.72" stroke="#000" stroke-width="0.9" stroke-linecap="butt"/>
<line x1="85.40" y1="303.72" x2="90.00" y2="303.72" stroke="#000" stroke-width="0.9" stroke-linecap="butt"/>
<rect x="82.50" y="306.12" width="10.40" height="46.08" fill="#bfbfbf" />
<line x1="87.80" y1="352.20" x2="87.80" y2="355.20" stroke="#000" stroke-width="0.9" stroke-linecap="butt"/>
<text transform="translate(87.90,363.30)" font-size="6.2" text-anchor="middle" font-weight="normal" fill="#111" >T24</text>
<line x1="36.10" y1="320.20" x2="96.00" y2="320.20" stroke="#000" stroke-width="1.1" stroke-dasharray="1.2 0.85"/>
<line x1="56.00" y1="286.20" x2="88.30" y2="286.20" stroke="#1a1a1a" stroke-width="1.2" stroke-linecap="butt"/>
<text transform="translate(71.80,287.20)" font-size="6.5" text-anchor="middle" font-weight="normal" fill="#111" >*</text>
<line x1="56.00" y1="292.90" x2="73.80" y2="292.90" stroke="#1a1a1a" stroke-width="1.2" stroke-linecap="butt"/>
<text transform="translate(64.30,293.90)" font-size="6.5" text-anchor="middle" font-weight="normal" fill="#111" >*</text>
<text transform="translate(168.20,277.20)" font-size="8.5" text-anchor="middle" font-weight="normal" fill="#111" >MTP18</text>
<line x1="138.50" y1="285.60" x2="138.50" y2="352.75" stroke="#000" stroke-width="1.25" stroke-linecap="butt"/>
<line x1="135.80" y1="352.20" x2="138.50" y2="352.20" stroke="#000" stroke-width="0.9" stroke-linecap="butt"/>
<text transform="translate(131.70,353.91)" font-size="6.15" text-anchor="end" font-weight="normal" fill="#111" >0.0</text>
<line x1="135.80" y1="341.60" x2="138.50" y2="341.60" stroke="#000" stroke-width="0.9" stroke-linecap="butt"/>
<text transform="translate(131.70,343.31)" font-size="6.15" text-anchor="end" font-weight="normal" fill="#111" >0.2</text>
<line x1="135.80" y1="331.00" x2="138.50" y2="331.00" stroke="#000" stroke-width="0.9" stroke-linecap="butt"/>
<text transform="translate(131.70,332.71)" font-size="6.15" text-anchor="end" font-weight="normal" fill="#111" >0.4</text>
<line x1="135.80" y1="320.40" x2="138.50" y2="320.40" stroke="#000" stroke-width="0.9" stroke-linecap="butt"/>
<text transform="translate(131.70,322.11)" font-size="6.15" text-anchor="end" font-weight="normal" fill="#111" >0.6</text>
<line x1="135.80" y1="309.80" x2="138.50" y2="309.80" stroke="#000" stroke-width="0.9" stroke-linecap="butt"/>
<text transform="translate(131.70,311.51)" font-size="6.15" text-anchor="end" font-weight="normal" fill="#111" >0.8</text>
<line x1="135.80" y1="299.20" x2="138.50" y2="299.20" stroke="#000" stroke-width="0.9" stroke-linecap="butt"/>
<text transform="translate(131.70,300.91)" font-size="6.15" text-anchor="end" font-weight="normal" fill="#111" >1.0</text>
<line x1="135.80" y1="288.60" x2="138.50" y2="288.60" stroke="#000" stroke-width="0.9" stroke-linecap="butt"/>
<text transform="translate(131.70,290.31)" font-size="6.15" text-anchor="end" font-weight="normal" fill="#111" >1.2</text>
<line x1="137.95" y1="352.20" x2="196.80" y2="352.20" stroke="#000" stroke-width="1.25" stroke-linecap="butt"/>
<text transform="translate(117.30,319.20) rotate(-90) scale(0.89,1)" font-size="8.9" text-anchor="middle" font-weight="normal" fill="#111" >Fold change</text>
<rect x="140.40" y="299.20" width="10.40" height="53.00" fill="#000" />
<line x1="145.70" y1="352.20" x2="145.70" y2="355.20" stroke="#000" stroke-width="0.9" stroke-linecap="butt"/>
<text transform="translate(145.80,363.30)" font-size="6.2" text-anchor="middle" font-weight="normal" fill="#111" >T0</text>
<line x1="160.60" y1="309.00" x2="160.60" y2="301.58" stroke="#000" stroke-width="0.9" stroke-linecap="butt"/>
<line x1="158.30" y1="301.58" x2="162.90" y2="301.58" stroke="#000" stroke-width="0.9" stroke-linecap="butt"/>
<rect x="155.40" y="309.00" width="10.40" height="43.19" fill="#404040" />
<line x1="160.70" y1="352.20" x2="160.70" y2="355.20" stroke="#000" stroke-width="0.9" stroke-linecap="butt"/>
<text transform="translate(160.80,363.30)" font-size="6.2" text-anchor="middle" font-weight="normal" fill="#111" >T0,5</text>
<line x1="175.60" y1="327.29" x2="175.60" y2="323.58" stroke="#000" stroke-width="0.9" stroke-linecap="butt"/>
<line x1="173.30" y1="323.58" x2="177.90" y2="323.58" stroke="#000" stroke-width="0.9" stroke-linecap="butt"/>
<rect x="170.40" y="327.29" width="10.40" height="24.91" fill="#808080" />
<line x1="175.70" y1="352.20" x2="175.70" y2="355.20" stroke="#000" stroke-width="0.9" stroke-linecap="butt"/>
<text transform="translate(175.80,363.30)" font-size="6.2" text-anchor="middle" font-weight="normal" fill="#111" >T4</text>
<line x1="190.60" y1="319.34" x2="190.60" y2="314.04" stroke="#000" stroke-width="0.9" stroke-linecap="butt"/>
<line x1="188.30" y1="314.04" x2="192.90" y2="314.04" stroke="#000" stroke-width="0.9" stroke-linecap="butt"/>
<rect x="185.40" y="319.34" width="10.40" height="32.86" fill="#bfbfbf" />
<line x1="190.70" y1="352.20" x2="190.70" y2="355.20" stroke="#000" stroke-width="0.9" stroke-linecap="butt"/>
<text transform="translate(190.80,363.30)" font-size="6.2" text-anchor="middle" font-weight="normal" fill="#111" >T24</text>
<line x1="139.00" y1="299.20" x2="197.30" y2="299.20" stroke="#000" stroke-width="1.1" stroke-dasharray="1.2 0.85"/>
<line x1="160.40" y1="292.90" x2="175.70" y2="292.90" stroke="#1a1a1a" stroke-width="1.2" stroke-linecap="butt"/>
<text transform="translate(168.30,293.90)" font-size="6.5" text-anchor="middle" font-weight="normal" fill="#111" >*</text>
<text transform="translate(271.00,277.20)" font-size="8.5" text-anchor="middle" font-weight="normal" fill="#111" >BIK</text>
<line x1="241.20" y1="285.60" x2="241.20" y2="352.75" stroke="#000" stroke-width="1.25" stroke-linecap="butt"/>
<line x1="238.50" y1="352.20" x2="241.20" y2="352.20" stroke="#000" stroke-width="0.9" stroke-linecap="butt"/>
<text transform="translate(234.40,353.91)" font-size="6.15" text-anchor="end" font-weight="normal" fill="#111" >0.0</text>
<line x1="238.50" y1="330.95" x2="241.20" y2="330.95" stroke="#000" stroke-width="0.9" stroke-linecap="butt"/>
<text transform="translate(234.40,332.66)" font-size="6.15" text-anchor="end" font-weight="normal" fill="#111" >0.5</text>
<line x1="238.50" y1="309.70" x2="241.20" y2="309.70" stroke="#000" stroke-width="0.9" stroke-linecap="butt"/>
<text transform="translate(234.40,311.41)" font-size="6.15" text-anchor="end" font-weight="normal" fill="#111" >1.0</text>
<line x1="238.50" y1="288.45" x2="241.20" y2="288.45" stroke="#000" stroke-width="0.9" stroke-linecap="butt"/>
<text transform="translate(234.40,290.16)" font-size="6.15" text-anchor="end" font-weight="normal" fill="#111" >1.5</text>
<line x1="240.65" y1="352.20" x2="301.20" y2="352.20" stroke="#000" stroke-width="1.25" stroke-linecap="butt"/>
<text transform="translate(220.90,319.20) rotate(-90) scale(0.89,1)" font-size="8.9" text-anchor="middle" font-weight="normal" fill="#111" >Fold change</text>
<rect x="243.10" y="309.70" width="10.40" height="42.50" fill="#000" />
<line x1="248.40" y1="352.20" x2="248.40" y2="355.20" stroke="#000" stroke-width="0.9" stroke-linecap="butt"/>
<text transform="translate(248.50,363.30)" font-size="6.2" text-anchor="middle" font-weight="normal" fill="#111" >T0</text>
<line x1="263.30" y1="304.73" x2="263.30" y2="297.38" stroke="#000" stroke-width="0.9" stroke-linecap="butt"/>
<line x1="261.00" y1="297.38" x2="265.60" y2="297.38" stroke="#000" stroke-width="0.9" stroke-linecap="butt"/>
<rect x="258.10" y="304.73" width="10.40" height="47.47" fill="#404040" />
<line x1="263.40" y1="352.20" x2="263.40" y2="355.20" stroke="#000" stroke-width="0.9" stroke-linecap="butt"/>
<text transform="translate(263.50,363.30)" font-size="6.2" text-anchor="middle" font-weight="normal" fill="#111" >T0,5</text>
<line x1="278.30" y1="331.80" x2="278.30" y2="329.68" stroke="#000" stroke-width="0.9" stroke-linecap="butt"/>
<line x1="276.00" y1="329.68" x2="280.60" y2="329.68" stroke="#000" stroke-width="0.9" stroke-linecap="butt"/>
<rect x="273.10" y="331.80" width="10.40" height="20.40" fill="#808080" />
<line x1="278.40" y1="352.20" x2="278.40" y2="355.20" stroke="#000" stroke-width="0.9" stroke-linecap="butt"/>
<text transform="translate(278.50,363.30)" font-size="6.2" text-anchor="middle" font-weight="normal" fill="#111" >T4</text>
<line x1="293.30" y1="325.64" x2="293.30" y2="321.18" stroke="#000" stroke-width="0.9" stroke-linecap="butt"/>
<line x1="291.00" y1="321.18" x2="295.60" y2="321.18" stroke="#000" stroke-width="0.9" stroke-linecap="butt"/>
<rect x="288.10" y="325.64" width="10.40" height="26.56" fill="#bfbfbf" />
<line x1="293.40" y1="352.20" x2="293.40" y2="355.20" stroke="#000" stroke-width="0.9" stroke-linecap="butt"/>
<text transform="translate(293.50,363.30)" font-size="6.2" text-anchor="middle" font-weight="normal" fill="#111" >T24</text>
<line x1="241.70" y1="309.70" x2="301.70" y2="309.70" stroke="#000" stroke-width="1.1" stroke-dasharray="1.2 0.85"/>
<line x1="264.20" y1="286.90" x2="294.70" y2="286.90" stroke="#1a1a1a" stroke-width="1.2" stroke-linecap="butt"/>
<text transform="translate(279.70,287.90)" font-size="6.5" text-anchor="middle" font-weight="normal" fill="#111" >*</text>
<line x1="264.20" y1="293.90" x2="279.10" y2="293.90" stroke="#1a1a1a" stroke-width="1.2" stroke-linecap="butt"/>
<text transform="translate(272.20,294.90)" font-size="6.5" text-anchor="middle" font-weight="normal" fill="#111" >**</text>
<text transform="translate(375.50,277.20)" font-size="8.5" text-anchor="middle" font-weight="normal" fill="#111" >TNF</text>
<line x1="345.50" y1="285.60" x2="345.50" y2="352.75" stroke="#000" stroke-width="1.25" stroke-linecap="butt"/>
<line x1="342.80" y1="352.20" x2="345.50" y2="352.20" stroke="#000" stroke-width="0.9" stroke-linecap="butt"/>
<text transform="translate(338.70,353.91)" font-size="6.15" text-anchor="end" font-weight="normal" fill="#111" >0</text>
<line x1="342.80" y1="330.90" x2="345.50" y2="330.90" stroke="#000" stroke-width="0.9" stroke-linecap="butt"/>
<text transform="translate(338.70,332.61)" font-size="6.15" text-anchor="end" font-weight="normal" fill="#111" >50</text>
<line x1="342.80" y1="309.60" x2="345.50" y2="309.60" stroke="#000" stroke-width="0.9" stroke-linecap="butt"/>
<text transform="translate(338.70,311.31)" font-size="6.15" text-anchor="end" font-weight="normal" fill="#111" >100</text>
<line x1="342.80" y1="288.30" x2="345.50" y2="288.30" stroke="#000" stroke-width="0.9" stroke-linecap="butt"/>
<text transform="translate(338.70,290.01)" font-size="6.15" text-anchor="end" font-weight="normal" fill="#111" >150</text>
<line x1="344.95" y1="352.20" x2="404.00" y2="352.20" stroke="#000" stroke-width="1.25" stroke-linecap="butt"/>
<text transform="translate(323.70,319.20) rotate(-90) scale(0.89,1)" font-size="8.9" text-anchor="middle" font-weight="normal" fill="#111" >Fold change</text>
<line x1="352.70" y1="352.20" x2="352.70" y2="355.20" stroke="#000" stroke-width="0.9" stroke-linecap="butt"/>
<text transform="translate(352.80,363.30)" font-size="6.2" text-anchor="middle" font-weight="normal" fill="#111" >T0</text>
<line x1="367.60" y1="309.17" x2="367.60" y2="303.42" stroke="#000" stroke-width="0.9" stroke-linecap="butt"/>
<line x1="365.30" y1="303.42" x2="369.90" y2="303.42" stroke="#000" stroke-width="0.9" stroke-linecap="butt"/>
<rect x="362.40" y="309.17" width="10.40" height="43.03" fill="#404040" />
<line x1="367.70" y1="352.20" x2="367.70" y2="355.20" stroke="#000" stroke-width="0.9" stroke-linecap="butt"/>
<text transform="translate(367.80,363.30)" font-size="6.2" text-anchor="middle" font-weight="normal" fill="#111" >T0,5</text>
<line x1="382.60" y1="335.59" x2="382.60" y2="327.07" stroke="#000" stroke-width="0.9" stroke-linecap="butt"/>
<line x1="380.30" y1="327.07" x2="384.90" y2="327.07" stroke="#000" stroke-width="0.9" stroke-linecap="butt"/>
<rect x="377.40" y="335.59" width="10.40" height="16.61" fill="#808080" />
<line x1="382.70" y1="352.20" x2="382.70" y2="355.20" stroke="#000" stroke-width="0.9" stroke-linecap="butt"/>
<text transform="translate(382.80,363.30)" font-size="6.2" text-anchor="middle" font-weight="normal" fill="#111" >T4</text>
<line x1="397.60" y1="350.50" x2="397.60" y2="349.22" stroke="#000" stroke-width="0.9" stroke-linecap="butt"/>
<line x1="395.30" y1="349.22" x2="399.90" y2="349.22" stroke="#000" stroke-width="0.9" stroke-linecap="butt"/>
<rect x="392.40" y="350.50" width="10.40" height="1.70" fill="#bfbfbf" />
<line x1="397.70" y1="352.20" x2="397.70" y2="355.20" stroke="#000" stroke-width="0.9" stroke-linecap="butt"/>
<text transform="translate(397.80,363.30)" font-size="6.2" text-anchor="middle" font-weight="normal" fill="#111" >T24</text>
<line x1="346.00" y1="351.57" x2="404.50" y2="351.57" stroke="#000" stroke-width="1.1" stroke-dasharray="1.2 0.85"/>
<line x1="352.40" y1="301.40" x2="368.20" y2="301.40" stroke="#1a1a1a" stroke-width="1.2" stroke-linecap="butt"/>
<text transform="translate(359.80,302.40)" font-size="6.5" text-anchor="middle" font-weight="normal" fill="#111" >***</text>
<line x1="369.40" y1="301.40" x2="385.30" y2="301.40" stroke="#1a1a1a" stroke-width="1.2" stroke-linecap="butt"/>
<text transform="translate(377.10,302.40)" font-size="6.5" text-anchor="middle" font-weight="normal" fill="#111" >*</text>
<line x1="369.40" y1="294.50" x2="402.60" y2="294.50" stroke="#1a1a1a" stroke-width="1.2" stroke-linecap="butt"/>
<text transform="translate(385.70,295.50)" font-size="6.5" text-anchor="middle" font-weight="normal" fill="#111" >***</text>
<text transform="translate(480.50,277.20)" font-size="8.5" text-anchor="middle" font-weight="normal" fill="#111" >CXCL11</text>
<line x1="450.80" y1="285.60" x2="450.80" y2="352.75" stroke="#000" stroke-width="1.25" stroke-linecap="butt"/>
<line x1="448.10" y1="352.20" x2="450.80" y2="352.20" stroke="#000" stroke-width="0.9" stroke-linecap="butt"/>
<text transform="translate(444.00,353.91)" font-size="6.15" text-anchor="end" font-weight="normal" fill="#111" >0</text>
<line x1="448.10" y1="336.24" x2="450.80" y2="336.24" stroke="#000" stroke-width="0.9" stroke-linecap="butt"/>
<text transform="translate(444.00,337.95)" font-size="6.15" text-anchor="end" font-weight="normal" fill="#111" >200</text>
<line x1="448.10" y1="320.28" x2="450.80" y2="320.28" stroke="#000" stroke-width="0.9" stroke-linecap="butt"/>
<text transform="translate(444.00,321.99)" font-size="6.15" text-anchor="end" font-weight="normal" fill="#111" >400</text>
<line x1="448.10" y1="304.32" x2="450.80" y2="304.32" stroke="#000" stroke-width="0.9" stroke-linecap="butt"/>
<text transform="translate(444.00,306.03)" font-size="6.15" text-anchor="end" font-weight="normal" fill="#111" >600</text>
<line x1="448.10" y1="288.36" x2="450.80" y2="288.36" stroke="#000" stroke-width="0.9" stroke-linecap="butt"/>
<text transform="translate(444.00,290.07)" font-size="6.15" text-anchor="end" font-weight="normal" fill="#111" >800</text>
<line x1="450.25" y1="352.20" x2="510.80" y2="352.20" stroke="#000" stroke-width="1.25" stroke-linecap="butt"/>
<text transform="translate(428.70,319.20) rotate(-90) scale(0.89,1)" font-size="8.9" text-anchor="middle" font-weight="normal" fill="#111" >Fold change</text>
<line x1="458.00" y1="352.20" x2="458.00" y2="355.20" stroke="#000" stroke-width="0.9" stroke-linecap="butt"/>
<text transform="translate(458.10,363.30)" font-size="6.2" text-anchor="middle" font-weight="normal" fill="#111" >T0</text>
<line x1="472.90" y1="349.81" x2="472.90" y2="348.05" stroke="#000" stroke-width="0.9" stroke-linecap="butt"/>
<line x1="470.60" y1="348.05" x2="475.20" y2="348.05" stroke="#000" stroke-width="0.9" stroke-linecap="butt"/>
<rect x="467.70" y="349.81" width="10.40" height="2.39" fill="#404040" />
<line x1="473.00" y1="352.20" x2="473.00" y2="355.20" stroke="#000" stroke-width="0.9" stroke-linecap="butt"/>
<text transform="translate(473.10,363.30)" font-size="6.2" text-anchor="middle" font-weight="normal" fill="#111" >T0,5</text>
<line x1="487.90" y1="315.89" x2="487.90" y2="301.53" stroke="#000" stroke-width="0.9" stroke-linecap="butt"/>
<line x1="485.60" y1="301.53" x2="490.20" y2="301.53" stroke="#000" stroke-width="0.9" stroke-linecap="butt"/>
<rect x="482.70" y="315.89" width="10.40" height="36.31" fill="#808080" />
<line x1="488.00" y1="352.20" x2="488.00" y2="355.20" stroke="#000" stroke-width="0.9" stroke-linecap="butt"/>
<text transform="translate(488.10,363.30)" font-size="6.2" text-anchor="middle" font-weight="normal" fill="#111" >T4</text>
<line x1="502.90" y1="351.00" x2="502.90" y2="349.17" stroke="#000" stroke-width="0.9" stroke-linecap="butt"/>
<line x1="500.60" y1="349.17" x2="505.20" y2="349.17" stroke="#000" stroke-width="0.9" stroke-linecap="butt"/>
<rect x="497.70" y="351.00" width="10.40" height="1.20" fill="#bfbfbf" />
<line x1="503.00" y1="352.20" x2="503.00" y2="355.20" stroke="#000" stroke-width="0.9" stroke-linecap="butt"/>
<text transform="translate(503.10,363.30)" font-size="6.2" text-anchor="middle" font-weight="normal" fill="#111" >T24</text>
<line x1="451.30" y1="351.72" x2="511.30" y2="351.72" stroke="#000" stroke-width="1.1" stroke-dasharray="1.2 0.85"/>
<line x1="474.20" y1="297.90" x2="488.10" y2="297.90" stroke="#1a1a1a" stroke-width="1.2" stroke-linecap="butt"/>
<text transform="translate(481.20,298.90)" font-size="6.5" text-anchor="middle" font-weight="normal" fill="#111" >*</text>
<line x1="489.30" y1="297.90" x2="503.30" y2="297.90" stroke="#1a1a1a" stroke-width="1.2" stroke-linecap="butt"/>
<text transform="translate(496.10,298.90)" font-size="6.5" text-anchor="middle" font-weight="normal" fill="#111" >*</text>
<text transform="translate(7.60,392.60)" font-size="11.5" text-anchor="start" font-weight="bold" fill="#000" >E</text>
<text transform="translate(44.2,400.5)" font-size="8.5" fill="#111">CD14<tspan dy="-1.1" font-size="5.6" font-weight="bold">+</tspan></text>
<line x1="35.60" y1="403.50" x2="35.60" y2="474.05" stroke="#000" stroke-width="1.25" stroke-linecap="butt"/>
<line x1="32.40" y1="473.50" x2="35.60" y2="473.50" stroke="#000" stroke-width="0.9" stroke-linecap="butt"/>
<text transform="translate(28.70,474.98)" font-size="5.5" text-anchor="end" font-weight="normal" fill="#111" >0</text>
<line x1="32.40" y1="462.32" x2="35.60" y2="462.32" stroke="#000" stroke-width="0.9" stroke-linecap="butt"/>
<text transform="translate(28.70,463.80)" font-size="5.5" text-anchor="end" font-weight="normal" fill="#111" >2</text>
<line x1="32.40" y1="451.14" x2="35.60" y2="451.14" stroke="#000" stroke-width="0.9" stroke-linecap="butt"/>
<text transform="translate(28.70,452.62)" font-size="5.5" text-anchor="end" font-weight="normal" fill="#111" >4</text>
<line x1="32.40" y1="439.96" x2="35.60" y2="439.96" stroke="#000" stroke-width="0.9" stroke-linecap="butt"/>
<text transform="translate(28.70,441.44)" font-size="5.5" text-anchor="end" font-weight="normal" fill="#111" >6</text>
<line x1="32.40" y1="428.78" x2="35.60" y2="428.78" stroke="#000" stroke-width="0.9" stroke-linecap="butt"/>
<text transform="translate(28.70,430.26)" font-size="5.5" text-anchor="end" font-weight="normal" fill="#111" >8</text>
<line x1="32.40" y1="417.60" x2="35.60" y2="417.60" stroke="#000" stroke-width="0.9" stroke-linecap="butt"/>
<text transform="translate(28.70,419.08)" font-size="5.5" text-anchor="end" font-weight="normal" fill="#111" >10</text>
<line x1="32.40" y1="406.42" x2="35.60" y2="406.42" stroke="#000" stroke-width="0.9" stroke-linecap="butt"/>
<text transform="translate(28.70,407.90)" font-size="5.5" text-anchor="end" font-weight="normal" fill="#111" >12</text>
<line x1="35.05" y1="473.50" x2="77.00" y2="473.50" stroke="#000" stroke-width="1.25" stroke-linecap="butt"/>
<text transform="translate(19.10,438.80) rotate(-90) scale(0.915,1)" font-size="8.5" text-anchor="middle" font-weight="normal" fill="#111" >miR-125b expression</text>
<line x1="45.80" y1="443.71" x2="45.80" y2="440.30" stroke="#000" stroke-width="0.9" stroke-linecap="butt"/>
<line x1="43.00" y1="440.30" x2="48.60" y2="440.30" stroke="#000" stroke-width="0.9" stroke-linecap="butt"/>
<rect x="38.20" y="443.71" width="15.20" height="29.79" fill="#000" />
<line x1="68.10" y1="419.22" x2="68.10" y2="415.81" stroke="#000" stroke-width="0.9" stroke-linecap="butt"/>
<line x1="65.30" y1="415.81" x2="70.90" y2="415.81" stroke="#000" stroke-width="0.9" stroke-linecap="butt"/>
<rect x="60.40" y="419.22" width="15.30" height="54.28" fill="#808080" />
<line x1="45.80" y1="473.50" x2="45.80" y2="476.70" stroke="#000" stroke-width="0.9" stroke-linecap="butt"/>
<text transform="translate(45.90,484.20)" font-size="6.2" text-anchor="middle" font-weight="normal" fill="#111" >RA</text>
<line x1="68.00" y1="473.50" x2="68.00" y2="476.70" stroke="#000" stroke-width="0.9" stroke-linecap="butt"/>
<text transform="translate(68.10,484.20)" font-size="6.2" text-anchor="middle" font-weight="normal" fill="#111" >HC</text>
<line x1="45.80" y1="413.50" x2="67.80" y2="413.50" stroke="#1a1a1a" stroke-width="1.2" stroke-linecap="butt"/>
<text transform="translate(57.80,413.60)" font-size="8" text-anchor="middle" font-weight="normal" fill="#111" >**</text>
<text transform="translate(107.80,392.90)" font-size="11.5" text-anchor="start" font-weight="bold" fill="#000" >F</text>
<text transform="translate(196.30,397.80) scale(0.85,1)" font-size="9.6" text-anchor="middle" font-weight="normal" fill="#111" >HC</text>
<line x1="138.20" y1="401.50" x2="138.20" y2="474.25" stroke="#000" stroke-width="1.25" stroke-linecap="butt"/>
<line x1="135.00" y1="463.00" x2="138.20" y2="463.00" stroke="#000" stroke-width="0.9" stroke-linecap="butt"/>
<text transform="translate(131.40,464.66)" font-size="6.0" text-anchor="end" font-weight="normal" fill="#111" >0.04</text>
<line x1="135.00" y1="448.34" x2="138.20" y2="448.34" stroke="#000" stroke-width="0.9" stroke-linecap="butt"/>
<text transform="translate(131.40,450.00)" font-size="6.0" text-anchor="end" font-weight="normal" fill="#111" >0.06</text>
<line x1="135.00" y1="433.68" x2="138.20" y2="433.68" stroke="#000" stroke-width="0.9" stroke-linecap="butt"/>
<text transform="translate(131.40,435.34)" font-size="6.0" text-anchor="end" font-weight="normal" fill="#111" >0.08</text>
<line x1="135.00" y1="419.02" x2="138.20" y2="419.02" stroke="#000" stroke-width="0.9" stroke-linecap="butt"/>
<text transform="translate(131.40,420.68)" font-size="6.0" text-anchor="end" font-weight="normal" fill="#111" >0.10</text>
<line x1="135.00" y1="404.36" x2="138.20" y2="404.36" stroke="#000" stroke-width="0.9" stroke-linecap="butt"/>
<text transform="translate(131.40,406.02)" font-size="6.0" text-anchor="end" font-weight="normal" fill="#111" >0.12</text>
<line x1="137.65" y1="473.70" x2="254.30" y2="473.70" stroke="#000" stroke-width="1.25" stroke-linecap="butt"/>
<text transform="translate(114.40,437.80) rotate(-90) scale(0.81,1)" font-size="9.2" text-anchor="middle" font-weight="normal" fill="#111" >Gene expression</text>
<line x1="138.10" y1="473.70" x2="138.10" y2="476.90" stroke="#000" stroke-width="0.9" stroke-linecap="butt"/>
<text transform="translate(138.30,484.70)" font-size="6.3" text-anchor="middle" font-weight="normal" fill="#111" >0.10</text>
<line x1="160.95" y1="473.70" x2="160.95" y2="476.90" stroke="#000" stroke-width="0.9" stroke-linecap="butt"/>
<text transform="translate(161.15,484.70)" font-size="6.3" text-anchor="middle" font-weight="normal" fill="#111" >0.11</text>
<line x1="183.80" y1="473.70" x2="183.80" y2="476.90" stroke="#000" stroke-width="0.9" stroke-linecap="butt"/>
<text transform="translate(184.00,484.70)" font-size="6.3" text-anchor="middle" font-weight="normal" fill="#111" >0.12</text>
<line x1="206.65" y1="473.70" x2="206.65" y2="476.90" stroke="#000" stroke-width="0.9" stroke-linecap="butt"/>
<text transform="translate(206.85,484.70)" font-size="6.3" text-anchor="middle" font-weight="normal" fill="#111" >0.13</text>
<line x1="229.50" y1="473.70" x2="229.50" y2="476.90" stroke="#000" stroke-width="0.9" stroke-linecap="butt"/>
<text transform="translate(229.70,484.70)" font-size="6.3" text-anchor="middle" font-weight="normal" fill="#111" >0.14</text>
<line x1="252.35" y1="473.70" x2="252.35" y2="476.90" stroke="#000" stroke-width="0.9" stroke-linecap="butt"/>
<text transform="translate(252.55,484.70)" font-size="6.3" text-anchor="middle" font-weight="normal" fill="#111" >0.15</text>
<text transform="translate(197.00,494.80) scale(0.81,1)" font-size="9.8" text-anchor="middle" font-weight="normal" fill="#111" >miR-125b</text>
<line x1="148.50" y1="449.90" x2="241.20" y2="435.00" stroke="#000" stroke-width="1.9" stroke-linecap="butt"/>
<line x1="148.50" y1="461.60" x2="239.90" y2="452.30" stroke="#000" stroke-width="1.9" stroke-linecap="butt"/>
<circle cx="148.90" cy="459.80" r="1.95" fill="#000"/>
<circle cx="202.30" cy="461.30" r="1.95" fill="#000"/>
<circle cx="220.60" cy="448.40" r="1.95" fill="#000"/>
<circle cx="227.40" cy="459.20" r="1.95" fill="#000"/>
<circle cx="241.20" cy="449.80" r="1.95" fill="#000"/>
<circle cx="148.90" cy="440.40" r="1.85" fill="#fff" stroke="#000" stroke-width="1.25"/>
<circle cx="202.30" cy="459.70" r="1.85" fill="#fff" stroke="#000" stroke-width="1.25"/>
<circle cx="220.60" cy="446.60" r="1.85" fill="#fff" stroke="#000" stroke-width="1.25"/>
<circle cx="227.00" cy="436.20" r="1.85" fill="#fff" stroke="#000" stroke-width="1.25"/>
<circle cx="241.20" cy="419.20" r="1.85" fill="#fff" stroke="#000" stroke-width="1.25"/>
<line x1="141.60" y1="406.00" x2="150.20" y2="406.00" stroke="#000" stroke-width="1.0" stroke-linecap="butt"/>
<circle cx="145.70" cy="406.00" r="1.85" fill="#fff" stroke="#000" stroke-width="1.25"/>
<text transform="translate(153.40,408.00)" font-size="5.6" text-anchor="start" font-weight="normal" fill="#111" >MTP18</text>
<line x1="141.60" y1="415.30" x2="150.20" y2="415.30" stroke="#000" stroke-width="1.0" stroke-linecap="butt"/>
<circle cx="145.70" cy="415.30" r="1.95" fill="#000"/>
<text transform="translate(153.40,417.30)" font-size="5.6" text-anchor="start" font-weight="normal" fill="#111" >BIK</text>
<text transform="translate(354.00,397.90) scale(0.85,1)" font-size="9.6" text-anchor="middle" font-weight="normal" fill="#111" >RA</text>
<line x1="297.00" y1="401.70" x2="297.00" y2="473.95" stroke="#000" stroke-width="1.25" stroke-linecap="butt"/>
<line x1="293.80" y1="473.20" x2="297.00" y2="473.20" stroke="#000" stroke-width="0.9" stroke-linecap="butt"/>
<text transform="translate(291.20,474.97)" font-size="6.3" text-anchor="end" font-weight="normal" fill="#111" >0.00</text>
<line x1="293.80" y1="450.07" x2="297.00" y2="450.07" stroke="#000" stroke-width="0.9" stroke-linecap="butt"/>
<text transform="translate(291.20,451.84)" font-size="6.3" text-anchor="end" font-weight="normal" fill="#111" >0.05</text>
<line x1="293.80" y1="426.94" x2="297.00" y2="426.94" stroke="#000" stroke-width="0.9" stroke-linecap="butt"/>
<text transform="translate(291.20,428.71)" font-size="6.3" text-anchor="end" font-weight="normal" fill="#111" >0.10</text>
<line x1="293.80" y1="403.81" x2="297.00" y2="403.81" stroke="#000" stroke-width="0.9" stroke-linecap="butt"/>
<text transform="translate(291.20,405.58)" font-size="6.3" text-anchor="end" font-weight="normal" fill="#111" >0.15</text>
<line x1="296.45" y1="473.40" x2="410.70" y2="473.40" stroke="#000" stroke-width="1.25" stroke-linecap="butt"/>
<text transform="translate(274.90,437.50) rotate(-90) scale(0.81,1)" font-size="9.2" text-anchor="middle" font-weight="normal" fill="#111" >Gene expression</text>
<line x1="296.90" y1="473.40" x2="296.90" y2="476.60" stroke="#000" stroke-width="0.9" stroke-linecap="butt"/>
<text transform="translate(297.10,484.60)" font-size="6.3" text-anchor="middle" font-weight="normal" fill="#111" >0.04</text>
<line x1="332.40" y1="473.40" x2="332.40" y2="476.60" stroke="#000" stroke-width="0.9" stroke-linecap="butt"/>
<text transform="translate(332.60,484.60)" font-size="6.3" text-anchor="middle" font-weight="normal" fill="#111" >0.06</text>
<line x1="367.90" y1="473.40" x2="367.90" y2="476.60" stroke="#000" stroke-width="0.9" stroke-linecap="butt"/>
<text transform="translate(368.10,484.60)" font-size="6.3" text-anchor="middle" font-weight="normal" fill="#111" >0.08</text>
<line x1="403.40" y1="473.40" x2="403.40" y2="476.60" stroke="#000" stroke-width="0.9" stroke-linecap="butt"/>
<text transform="translate(403.60,484.60)" font-size="6.3" text-anchor="middle" font-weight="normal" fill="#111" >0.10</text>
<text transform="translate(350.30,494.60) scale(0.81,1)" font-size="9.8" text-anchor="middle" font-weight="normal" fill="#111" >miR-125b</text>
<line x1="299.10" y1="433.40" x2="397.80" y2="449.20" stroke="#000" stroke-width="1.9" stroke-linecap="butt"/>
<line x1="299.10" y1="438.20" x2="397.80" y2="458.50" stroke="#000" stroke-width="1.9" stroke-linecap="butt"/>
<circle cx="299.10" cy="423.20" r="1.95" fill="#000"/>
<circle cx="309.00" cy="446.30" r="1.95" fill="#000"/>
<circle cx="331.00" cy="451.70" r="1.95" fill="#000"/>
<circle cx="339.60" cy="456.20" r="1.95" fill="#000"/>
<circle cx="367.10" cy="456.20" r="1.95" fill="#000"/>
<circle cx="384.30" cy="457.60" r="1.95" fill="#000"/>
<circle cx="387.70" cy="455.30" r="1.95" fill="#000"/>
<circle cx="396.90" cy="449.50" r="1.95" fill="#000"/>
<circle cx="299.10" cy="415.10" r="1.85" fill="#fff" stroke="#000" stroke-width="1.25"/>
<circle cx="309.00" cy="438.40" r="1.85" fill="#fff" stroke="#000" stroke-width="1.25"/>
<circle cx="331.00" cy="458.50" r="1.85" fill="#fff" stroke="#000" stroke-width="1.25"/>
<circle cx="339.80" cy="449.70" r="1.85" fill="#fff" stroke="#000" stroke-width="1.25"/>
<circle cx="367.10" cy="432.90" r="1.85" fill="#fff" stroke="#000" stroke-width="1.25"/>
<circle cx="384.30" cy="451.90" r="1.85" fill="#fff" stroke="#000" stroke-width="1.25"/>
<circle cx="387.70" cy="452.80" r="1.85" fill="#fff" stroke="#000" stroke-width="1.25"/>
<circle cx="396.90" cy="440.00" r="1.85" fill="#fff" stroke="#000" stroke-width="1.25"/>
<line x1="373.90" y1="405.60" x2="382.50" y2="405.60" stroke="#000" stroke-width="1.0" stroke-linecap="butt"/>
<circle cx="378.00" cy="405.60" r="1.85" fill="#fff" stroke="#000" stroke-width="1.25"/>
<text transform="translate(386.50,407.60)" font-size="5.6" text-anchor="start" font-weight="normal" fill="#111" >MTP18</text>
<line x1="373.90" y1="414.60" x2="382.50" y2="414.60" stroke="#000" stroke-width="1.0" stroke-linecap="butt"/>
<circle cx="378.00" cy="414.60" r="1.95" fill="#000"/>
<text transform="translate(386.50,416.60)" font-size="5.6" text-anchor="start" font-weight="normal" fill="#111" >BIK</text>
<path d="M0,0H520V502H0Z M1.4,1.2V500.2H518.1V1.2Z" fill="#000" fill-rule="evenodd"/>
</svg>
</body></html>
